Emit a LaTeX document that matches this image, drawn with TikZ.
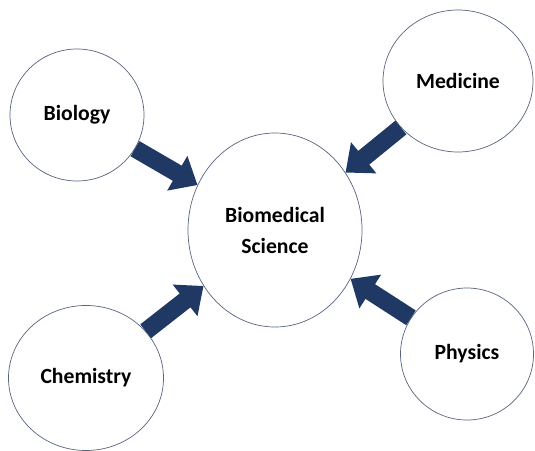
\documentclass[tikz,border=0pt]{standalone}
\usepackage{fontspec}
\setmainfont{Carlito}
\usetikzlibrary{shapes.geometric,arrows.meta}
\definecolor{navy}{RGB}{31,56,100}
\definecolor{rim}{RGB}{88,100,128}
\tikzset{
  field/.style={ellipse,draw=rim,line width=0.6pt,fill=white,inner sep=0pt,
    align=center,font=\fontsize{18.5}{26.5}\selectfont\bfseries},
  flow/.style={draw=navy,line width=15pt,-{Triangle[width=33pt,length=20pt]}}
}
\begin{document}
\begin{tikzpicture}[x=0.03cm,y=-0.03cm]
                \useasboundingbox (0,0) rectangle (535,451);
                \node[field,minimum width=5.22cm,minimum height=5.82cm] (bms) at (275,230) {Biomedical\\Science};
                \node[field,minimum width=4.02cm,minimum height=3.96cm] (bio) at (77,115) {Biology};
                \node[field,minimum width=4.5cm,minimum height=4.26cm] (med) at (458,81) {Medicine};
                \node[field,minimum width=4.65cm,minimum height=4.35cm] (chem) at (86,378) {Chemistry};
                \node[field,minimum width=3.99cm,minimum height=3.96cm] (phys) at (467,354) {Physics};
                \draw [flow] (bio) -- (bms);
                \draw [flow] (med) -- (bms);
                \draw [flow] (chem) -- (bms);
                \draw [flow] (phys) -- (bms);
            \end{tikzpicture}
\end{document}
